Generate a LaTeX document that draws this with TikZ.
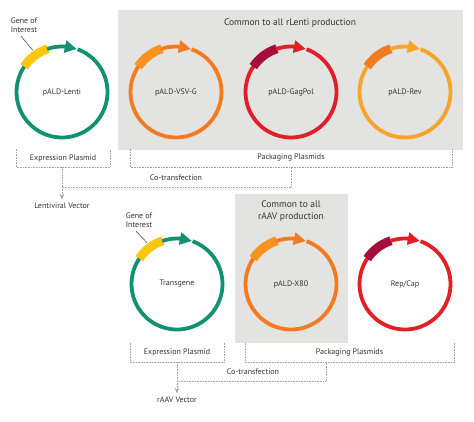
\documentclass[tikz,border=0pt]{standalone}
\usepackage{fontspec}
\setmainfont{PT Sans}
\usepackage{tikz}
\usetikzlibrary{arrows.meta, bending, positioning}
\definecolor{PlasTeal}{HTML}{12906F}
\definecolor{GeneYellow}{HTML}{F9C80E}
\definecolor{RingOrange}{HTML}{F47A20}
\definecolor{GeneOrange}{HTML}{F7931E}
\definecolor{RingRed}{HTML}{E21E26}
\definecolor{GeneMaroon}{HTML}{A50E3B}
\definecolor{RingAmber}{HTML}{F7A428}
\definecolor{PanelGrey}{HTML}{E3E3E1}
\definecolor{DotGrey}{HTML}{A5A5A5}
\definecolor{TextGrey}{HTML}{333333}

\begin{document}
\begin{tikzpicture}[x=1pt, y=1pt, >=Stealth, every node/.style={font=\fontsize{8}{9.5}\selectfont, text=TextGrey}]
    \tikzstyle{panel} = [rectangle, fill=PanelGrey, inner sep=0pt]
    \tikzstyle{bracket} = [rectangle, inner sep=0pt, minimum height=18pt]
    \tikzstyle{dots} = [draw=DotGrey, densely dotted, line width=0.6pt]
    \tikzstyle{title} = [font=\fontsize{9.5}{11.5}\selectfont, align=center]
    \tikzstyle{leader} = [draw=TextGrey, line width=0.5pt]

    \useasboundingbox (0,0) rectangle (474,-421);

    % grey panels
    \node [panel, minimum width=345pt, minimum height=140pt] (lentibox) at (290.5,-80) {};
    \node [title] (lentititle) at (290,-23) {Common to all rLenti production};
    \node [panel, minimum width=113pt, minimum height=149pt] (aavbox) at (291.5,-268.5) {};
    \node [title] (aavtitle) at (291,-211) {Common to all\\rAAV production};

    % plasmids
    \foreach \cx/\cy/\ring/\gene/\nm/\lab in {62/-92/PlasTeal/GeneYellow/lenti/{pALD-Lenti},
        176/-92/RingOrange/GeneOrange/vsvg/{pALD-VSV-G},
        291/-92/RingRed/GeneMaroon/gagpol/{pALD-GagPol},
        405/-92/RingAmber/RingOrange/rev/{pALD-Rev},
        177/-284/PlasTeal/GeneYellow/transgene/{Transgene},
        291/-284/RingOrange/GeneOrange/xeighty/{pALD-X80},
        405/-284/RingRed/GeneMaroon/repcap/{Rep/Cap}} {
        \node (\nm) at (\cx,\cy) {\lab};
        \draw [\ring, line width=3.8pt] ([shift={(70:45.5)}]\nm.center) arc (70:-215:45.5);
        \draw [\gene, line width=9pt] ([shift={(146:45.5)}]\nm.center) arc (146:108:45.5);
        \draw [\ring, line width=3.8pt, -{Triangle[length=12pt,width=12pt]}] ([shift={(109:45.5)}]\nm.center) arc (109:71:45.5);
    }

    % gene of interest labels
    \node [align=center] (goilenti) at (24,-25) {Gene of\\Interest};
    \path [leader] ([xshift=-3pt]goilenti.south) -- ([shift={(125:51)}]lenti.center);
    \node [align=center] (goitrans) at (139,-220) {Gene of\\Interest};
    \path [leader] ([xshift=-3pt]goitrans.south) -- ([shift={(126:51)}]transgene.center);

    % lentiviral brackets
    \node [bracket, minimum width=94pt] (exprlenti) at (63,-158) {Expression Plasmid};
    \node [bracket, minimum width=322pt] (packlenti) at (291,-158) {Packaging Plasmids};
    \foreach \b in {exprlenti, packlenti}
        \path [dots] (\b.north west) -- (\b.south west) -- (\b.south east) -- (\b.north east);
    \coordinate (joinlenti) at (62,-187);
    \node (cotlenti) at (176,-178) {Co-transfection};
    \node (lentivec) at (62,-206) {Lentiviral Vector};
    \path [dots] (exprlenti.south -| joinlenti) -- (joinlenti) -| (packlenti.south);
    \path [dots, ->] (joinlenti) -- (lentivec.north);

    % rAAV brackets
    \node [bracket, minimum width=94pt, minimum height=19pt] (expraav) at (177,-352.5) {Expression Plasmid};
    \node [bracket, minimum width=209pt, minimum height=19pt] (packaav) at (349.5,-352.5) {Packaging Plasmids};
    \foreach \b in {expraav, packaav}
        \path [dots] (\b.north west) -- (\b.south west) -- (\b.south east) -- (\b.north east);
    \coordinate (joinaav) at (177,-381);
    \coordinate (packjoin) at (326,-381);
    \node (cotaav) at (253,-372) {Co-transfection};
    \node (aavvec) at (177,-400) {rAAV Vector};
    \path [dots] (expraav.south) -- (joinaav) -- (packjoin) -- (packjoin |- packaav.south);
    \path [dots, ->] (joinaav) -- (aavvec.north);
\end{tikzpicture}
\end{document}
